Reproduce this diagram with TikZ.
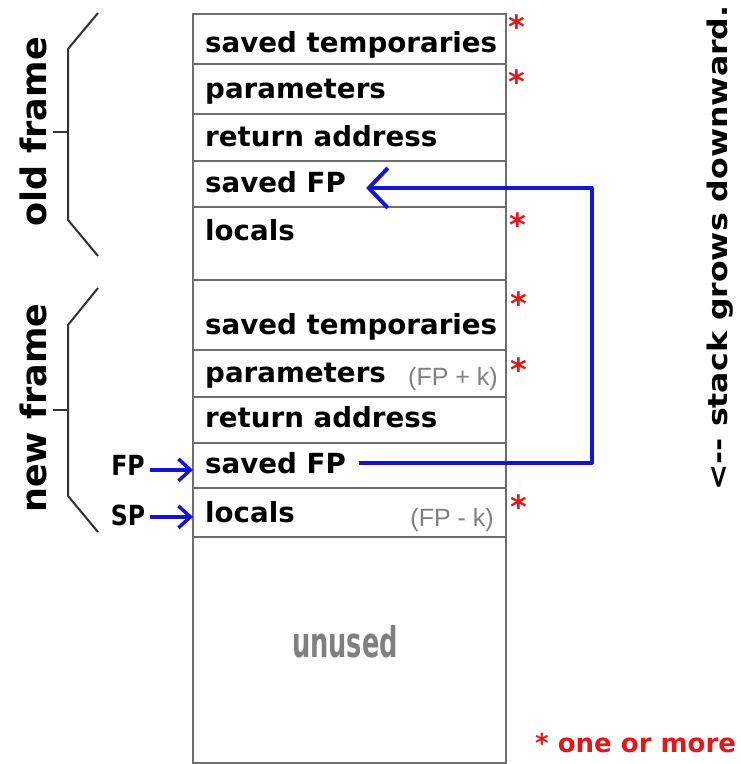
\documentclass[tikz,border=0pt]{standalone}
\usepackage{fontspec}
\usetikzlibrary{arrows.meta}
\newfontfamily\dvs{DejaVu Sans}
\newfontfamily\libs{Liberation Sans}
\definecolor{arrowblue}{HTML}{1414D2}
\definecolor{starred}{HTML}{E01818}
\definecolor{rowgray}{HTML}{6E6E6E}
\definecolor{textgray}{HTML}{808080}
\begin{document}
\begin{tikzpicture}[x=1pt,y=-1pt,
  stackrow/.style={draw=rowgray, line width=1.4pt, minimum width=313pt, inner sep=0pt, outer sep=0pt},
  rowtext/.style={anchor=base west, inner sep=0pt, font=\dvs\bfseries\fontsize{27.7}{28}\selectfont},
  offtext/.style={anchor=base east, inner sep=0pt, text=textgray, font=\libs\fontsize{25}{25}\selectfont},
  star/.style={anchor=base, inner sep=0pt, text=starred, font=\dvs\bfseries\fontsize{32}{32}\selectfont},
  brace/.style={draw=black!80, line width=2pt, line join=round},
  framelabel/.style={rotate=90, inner sep=0pt, font=\dvs\bfseries\fontsize{35}{35}\selectfont},
  ptrlabel/.style={anchor=base, inner sep=0pt, font=\dvs\bfseries\fontsize{27.7}{28}\selectfont},
  ptr/.style={draw=arrowblue, line width=3.5pt, -{Straight Barb[length=12pt,width=22pt]}},
  loopptr/.style={draw=arrowblue, line width=4pt, line join=round, -{Straight Barb[length=19pt,width=40pt]}},
]
\useasboundingbox[fill=white] (0,0) rectangle (740,764);

% stack rows
\node[stackrow, minimum height=50pt] (r1) at (349.5,39) {};
\node[stackrow, minimum height=50pt] (r2) at (349.5,89) {};
\node[stackrow, minimum height=47pt] (r3) at (349.5,137.5) {};
\node[stackrow, minimum height=46pt] (r4) at (349.5,184) {};
\node[stackrow, minimum height=73pt] (r5) at (349.5,243.5) {};
\node[stackrow, minimum height=70pt] (r6) at (349.5,315) {};
\node[stackrow, minimum height=47pt] (r7) at (349.5,373.5) {};
\node[stackrow, minimum height=46pt] (r8) at (349.5,420) {};
\node[stackrow, minimum height=45pt] (r9) at (349.5,465.5) {};
\node[stackrow, minimum height=49pt] (r10) at (349.5,512.5) {};
\node[stackrow, minimum height=226pt] (r11) at (349.5,650) {};

% row texts
\node[rowtext] (t1) at (205,52) {saved temporaries};
\node[rowtext] (t2) at (205,98) {parameters};
\node[rowtext] (t3) at (205,146) {return address};
\node[rowtext] (t4) at (205,192) {saved FP};
\node[rowtext] (t5) at (205,240) {locals};
\node[rowtext] (t6) at (205,334) {saved temporaries};
\node[rowtext] (t7) at (205,382) {parameters};
\node[rowtext] (t8) at (205,427) {return address};
\node[rowtext] (t9) at (205,473) {saved FP};
\node[rowtext] (t10) at (205,522) {locals};
\node[offtext] (o1) at (498,385) {(FP + k)};
\node[offtext] (o2) at (494,526) {(FP - k)};
\node[anchor=base, inner sep=0pt, text=textgray] (unused) at (345,657) {\resizebox{106pt}{32pt}{\dvs\bfseries unused}};

% stars
\node[star] (s1) at (517,38) {*};
\node[star] (s2) at (517,93) {*};
\node[star] (s3) at (518,236) {*};
\node[star] (s4) at (519,315) {*};
\node[star] (s5) at (519,381) {*};
\node[star] (s6) at (519,518) {*};
\node[anchor=base west, inner sep=0pt, text=starred, font=\dvs\bfseries\fontsize{26}{26}\selectfont] (note) at (535,752) {* one or more};

% frame brackets
\draw[brace] (98,13) -- (68,49) -- (68,220) -- (98,256);
\draw[brace] (53,132) -- (68,132);
\draw[brace] (98,288) -- (68,325) -- (68,496) -- (98,532);
\draw[brace] (53,410) -- (68,410);
\node[framelabel] (oldf) at (33,132) {old frame};
\node[framelabel] (newf) at (33,408) {new frame};

% growth note
\node[rotate=90, inner sep=0pt] (grow) at (720,248) {\scalebox{1.17}[1]{\dvs\bfseries\fontsize{27}{27}\selectfont <-{}- stack grows downward.}};

% FP / SP pointers
\node[ptrlabel] (fplab) at (128,475) {\scalebox{0.85}[1]{FP}};
\node[ptrlabel] (splab) at (128,525) {\scalebox{0.85}[1]{SP}};
\draw[ptr] ([xshift=5pt,yshift=-5pt]fplab.east) -- ([yshift=-5pt]fplab.east -| r9.west);
\draw[ptr] ([xshift=5pt,yshift=-2pt]splab.east) -- ([yshift=-2pt]splab.east -| r10.west);

% saved FP link
\coordinate (loopturn) at (592,188);
\draw[loopptr] ([xshift=13pt]t9.east) -| (loopturn) -- ([xshift=20pt]t4.east |- loopturn);
\end{tikzpicture}
\end{document}
